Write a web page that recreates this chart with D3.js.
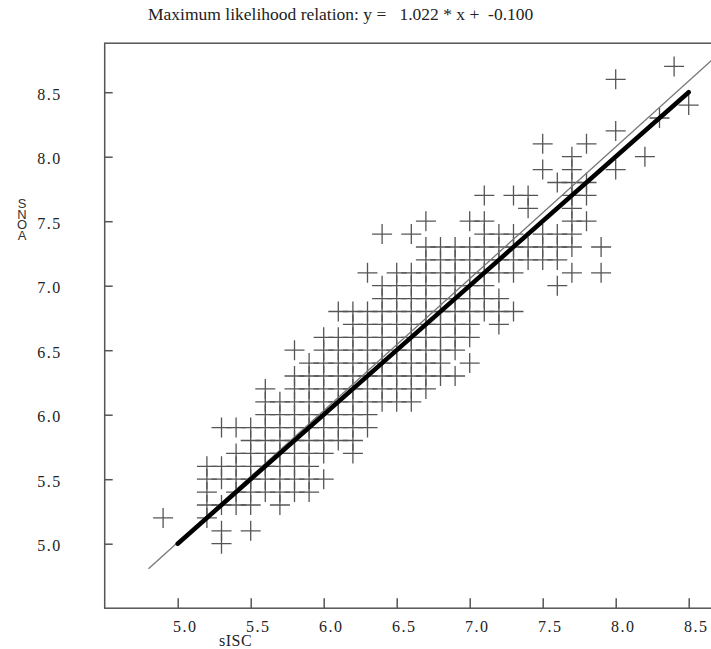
<!DOCTYPE html>
<html>
<head>
<meta charset="utf-8">
<script src="https://cdnjs.cloudflare.com/ajax/libs/d3/7.8.5/d3.min.js"></script>
<style>
  body { margin: 0; background: #fff; }
  svg { display: block; }
</style>
</head>
<body>
<div id="chart"></div>
<script>
// SNOA grid levels, and the sISC values that sit on each level
var yLevels = [5.0, 5.1, 5.2, 5.3, 5.4, 5.5, 5.6, 5.7, 5.8, 5.9,
               6.0, 6.1, 6.2, 6.3, 6.4, 6.5, 6.6, 6.7, 6.8, 6.9,
               7.0, 7.1, 7.2, 7.3, 7.4, 7.5, 7.6, 7.7, 7.8, 7.9,
               8.0, 8.1, 8.2, 8.3, 8.4, 8.6, 8.7];
var xAtLevel = [
  [5.3],
  [5.3, 5.5],
  [4.9, 5.2],
  [5.2, 5.3, 5.4, 5.5, 5.7],
  [5.2, 5.4, 5.5, 5.6, 5.7, 5.8, 5.9],
  [5.2, 5.3, 5.4, 5.5, 5.6, 5.7, 5.8, 5.9, 6.0],
  [5.2, 5.3, 5.4, 5.5, 5.6, 5.7, 5.8, 5.9],
  [5.4, 5.5, 5.6, 5.7, 5.8, 5.9, 6.0, 6.2],
  [5.5, 5.6, 5.7, 5.8, 5.9, 6.0, 6.1, 6.2],
  [5.3, 5.4, 5.5, 5.6, 5.7, 5.8, 5.9, 6.0, 6.1, 6.2, 6.3],
  [5.6, 5.7, 5.8, 5.9, 6.0, 6.1, 6.2, 6.3],
  [5.6, 5.7, 5.8, 5.9, 6.0, 6.1, 6.2, 6.3, 6.4, 6.5, 6.6],
  [5.6, 5.8, 5.9, 6.0, 6.1, 6.2, 6.3, 6.4, 6.5, 6.6, 6.7],
  [5.8, 5.9, 6.0, 6.1, 6.2, 6.3, 6.4, 6.5, 6.6, 6.7, 6.8, 6.9],
  [5.9, 6.0, 6.1, 6.2, 6.3, 6.4, 6.5, 6.6, 6.7, 6.8, 7.0],
  [5.8, 6.0, 6.1, 6.2, 6.3, 6.4, 6.5, 6.6, 6.7, 6.8, 6.9],
  [6.0, 6.1, 6.2, 6.3, 6.4, 6.5, 6.6, 6.7, 6.8, 6.9, 7.0],
  [6.2, 6.3, 6.4, 6.5, 6.6, 6.7, 6.8, 6.9, 7.0, 7.2],
  [6.1, 6.2, 6.3, 6.4, 6.5, 6.6, 6.7, 6.8, 6.9, 7.0, 7.1, 7.2, 7.3],
  [6.4, 6.5, 6.6, 6.7, 6.8, 6.9, 7.0, 7.1, 7.2],
  [6.4, 6.5, 6.6, 6.7, 6.8, 6.9, 7.0, 7.1, 7.6],
  [6.3, 6.5, 6.6, 6.7, 6.8, 6.9, 7.0, 7.1, 7.2, 7.3, 7.7, 7.9],
  [6.7, 6.8, 6.9, 7.0, 7.1, 7.2, 7.3, 7.4, 7.5, 7.6],
  [6.7, 6.8, 6.9, 7.0, 7.1, 7.2, 7.3, 7.4, 7.5, 7.6, 7.7, 7.9],
  [6.4, 6.6, 7.1, 7.2, 7.3, 7.5, 7.6, 7.7],
  [6.7, 7.0, 7.1, 7.7, 7.8],
  [7.4, 7.7],
  [7.1, 7.3, 7.4, 7.7, 7.8],
  [7.6, 7.7, 7.8],
  [7.5, 7.7, 8.0],
  [7.7, 8.2],
  [7.5, 7.8],
  [8.0],
  [8.3],
  [8.5],
  [8.0],
  [8.4]
];

var xTicks = [5.0, 5.5, 6.0, 6.5, 7.0, 7.5, 8.0, 8.5];
var yTicks = [5.0, 5.5, 6.0, 6.5, 7.0, 7.5, 8.0, 8.5];

// maximum likelihood relation (thin) and the one-to-one line (thick)
var slope = 1.022, intercept = -0.100;
var fitXs = [4.8, 8.9];
var unitXs = [5.0, 8.5];

var titleText = "Maximum likelihood relation: y =   1.022 * x +  -0.100";
var xName = "sISC";
var yName = ["S", "N", "O", "A"];

var width = 711, height = 649;
var serif = "'Liberation Serif', 'Times New Roman', serif";

var svg = d3.select("#chart").append("svg")
    .attr("width", width)
    .attr("height", height)
    .style("font-family", serif);

// the frame runs past the right edge of the picture
var x = d3.scaleLinear().domain([4.5, 8.9]).range([104.7, 747.1]);
var y = d3.scaleLinear().domain([4.5, 8.88]).range([608.2, 43.2]);

svg.append("defs").append("clipPath").attr("id", "plotArea")
  .append("rect")
    .attr("x", x(4.5)).attr("y", y(8.88))
    .attr("width", x(8.9) - x(4.5)).attr("height", y(4.5) - y(8.88));

// frame
svg.append("rect")
    .attr("x", x(4.5)).attr("y", y(8.88))
    .attr("width", x(8.9) - x(4.5)).attr("height", y(4.5) - y(8.88))
    .attr("fill", "none")
    .attr("stroke", "#555")
    .attr("stroke-width", 1.5);

// ticks point into the plot
var xAxis = d3.axisBottom(x).tickValues(xTicks).tickSizeInner(-10).tickSizeOuter(0).tickFormat(d3.format(".1f"));
var gx = svg.append("g").attr("transform", "translate(0," + y(4.5) + ")").call(xAxis)
    .attr("font-family", serif);
gx.select(".domain").remove();
gx.selectAll(".tick line").attr("stroke", "#555").attr("stroke-width", 1.5);
gx.selectAll(".tick text")
    .attr("y", 12).attr("dy", "0.71em").attr("dx", 7)
    .style("font-size", "16px").style("letter-spacing", "1.5px")
    .attr("fill", "#222");

var yAxis = d3.axisLeft(y).tickValues(yTicks).tickSizeInner(-8).tickSizeOuter(0).tickFormat(d3.format(".1f"));
var gy = svg.append("g").attr("transform", "translate(" + x(4.5) + ",0)").call(yAxis)
    .attr("font-family", serif);
gy.select(".domain").remove();
gy.selectAll(".tick line").attr("stroke", "#555").attr("stroke-width", 1.5);
gy.selectAll(".tick text")
    .attr("x", -43).attr("dy", "0.45em")
    .attr("text-anchor", "end")
    .style("font-size", "16px").style("letter-spacing", "1.5px")
    .attr("fill", "#222");

// title
svg.append("text")
    .attr("x", 148).attr("y", 20)
    .style("font-size", "17.5px")
    .style("white-space", "pre")
    .attr("fill", "#222")
    .text(titleText);

// axis names
svg.append("text")
    .attr("x", 219).attr("y", 646)
    .style("font-size", "16px")
    .style("letter-spacing", "0.5px")
    .attr("fill", "#222")
    .text(xName);

svg.append("g").selectAll("text")
  .data(yName)
  .join("text")
    .attr("x", 22).attr("y", function(d, i) { return 208 + i * 10.5; })
    .attr("text-anchor", "middle")
    .style("font-family", "'Liberation Sans', Arial, sans-serif")
    .style("font-size", "13px")
    .attr("fill", "#333")
    .text(function(d) { return d; });

// flatten the levels into points
var points = [];
yLevels.forEach(function(lv, i) {
  xAtLevel[i].forEach(function(v) { points.push({x: v, y: lv}); });
});

var plot = svg.append("g").attr("clip-path", "url(#plotArea)");

// plus markers
plot.selectAll("path.pt")
  .data(points)
  .join("path")
    .attr("class", "pt")
    .attr("d", function(d) {
      var cx = x(d.x), cy = y(d.y);
      return "M" + (cx - 10) + "," + cy + "H" + (cx + 10) +
             "M" + cx + "," + (cy - 10) + "V" + (cy + 10);
    })
    .attr("stroke", "#555")
    .attr("stroke-width", 1.3)
    .attr("fill", "none");

var line = d3.line().x(function(d) { return x(d[0]); }).y(function(d) { return y(d[1]); });

plot.append("path")
    .attr("d", line(fitXs.map(function(v) { return [v, slope * v + intercept]; })))
    .attr("stroke", "#777")
    .attr("stroke-width", 1.3)
    .attr("fill", "none");

plot.append("path")
    .attr("d", line(unitXs.map(function(v) { return [v, v]; })))
    .attr("stroke", "#000")
    .attr("stroke-width", 4.5)
    .attr("stroke-linecap", "round")
    .attr("fill", "none");
</script>
</body>
</html>
